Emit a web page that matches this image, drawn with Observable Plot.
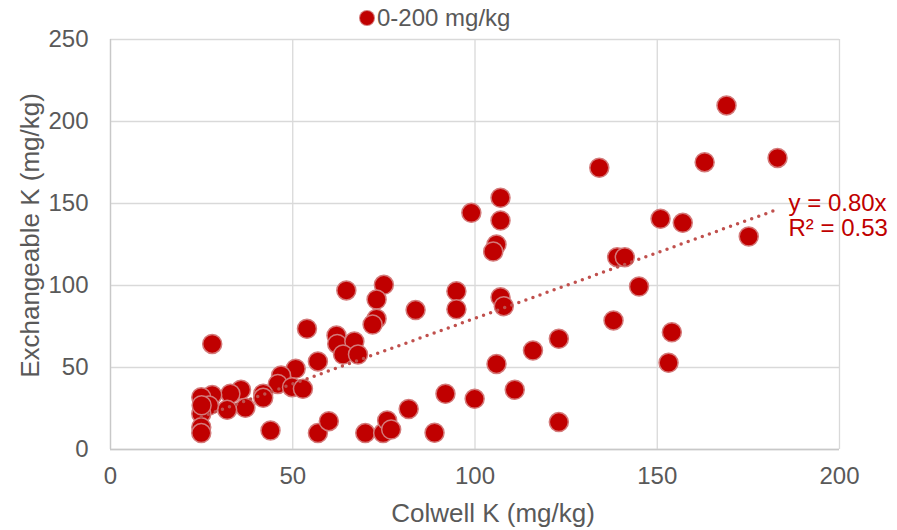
<!DOCTYPE html>
<html>
<head>
<meta charset="utf-8">
<script src="https://cdn.jsdelivr.net/npm/d3@7"></script>
<script src="https://cdn.jsdelivr.net/npm/@observablehq/plot@0.6"></script>
<style>
  html, body { margin: 0; padding: 0; background: #fff; }
  body { width: 897px; height: 530px; overflow: hidden; font-family: "Liberation Sans", Arial, sans-serif; }
  #legend { height: 28px; box-sizing: border-box; padding-top: 8px; padding-left: 360px;
            display: flex; align-items: center; font-size: 24px; color: #595959; line-height: 20px; }
  #legend .sw { width: 14px; height: 14px; border-radius: 50%; background: #c00000;
                box-shadow: 0 0 0 1px #d47a7a; margin-right: 3px; }
  #chart svg { display: block; overflow: visible; }
</style>
</head>
<body>
<div id="legend"><span class="sw"></span><span>0-200 mg/kg</span></div>
<div id="chart"></div>
<script>
// Colwell K vs exchangeable K, 0–200 mg/kg samples
const colwell = [
  27.9, 64.7, 75.0, 73.0, 73.0, 71.9, 83.7, 53.9, 62.0, 62.2,
  66.9, 63.8, 67.9, 56.9, 50.8, 46.8, 45.9, 49.8, 52.8, 41.9,
  41.9, 35.8, 32.9, 37.0, 32.0, 27.9, 24.9, 27.0, 24.9, 24.9,
  24.9, 43.9, 56.9, 59.9, 69.9, 74.8, 75.9, 77.0, 81.8, 88.9,
  107.0, 99.0, 107.0, 105.9, 105.0, 94.9, 94.9, 107.0, 107.9, 123.0,
  115.9, 105.9, 110.9, 91.9, 99.9, 123.0, 169.0, 134.1, 163.0, 183.0,
  150.9, 157.0, 175.1, 139.0, 141.1, 145.0, 138.0, 154.0, 153.1, 25.0
];
const exchangeable = [
  64.4, 97.0, 100.4, 91.5, 79.7, 76.2, 85.0, 73.6, 69.5, 64.4,
  65.9, 57.9, 57.9, 53.7, 49.2, 45.1, 40.0, 38.0, 37.0, 34.0,
  31.5, 36.4, 34.0, 25.4, 24.2, 33.3, 31.9, 26.8, 21.8, 13.6,
  10.0, 11.6, 10.0, 17.3, 10.0, 10.0, 17.7, 12.2, 24.7, 10.2,
  153.5, 144.3, 139.6, 125.0, 120.7, 96.5, 85.5, 92.9, 87.4, 67.5,
  60.4, 52.2, 36.4, 34.0, 30.9, 16.7, 209.8, 171.8, 175.2, 177.8,
  140.7, 138.2, 129.9, 117.3, 117.3, 99.4, 78.7, 71.5, 52.9, 27.0
];
const xTicks = [0, 50, 100, 150, 200];
const yTicks = [0, 50, 100, 150, 200, 250];
const slope = 0.80;
const rSquared = 0.53;

const points = colwell.map((x, i) => ({x, y: exchangeable[i]}));
const [xMin, xMax] = d3.extent(colwell);
const trend = [xMin, xMax].map(x => ({x, y: slope * x}));
const trendLabel = [{x: xMax, y: slope * xMax,
  text: `y = ${slope.toFixed(2)}x\nR² = ${rSquared.toFixed(2)}`}];

const red = "#c00000";
const grey = "#595959";
const grid = "#d9d9d9";

const chart = Plot.plot({
  width: 897,
  height: 502,
  marginTop: 11,
  marginLeft: 110,
  marginRight: 58,
  marginBottom: 81,
  style: {fontFamily: '"Liberation Sans", Arial, sans-serif', background: "#fff"},
  x: {domain: [0, 200]},
  y: {domain: [0, 250]},
  marks: [
    Plot.gridX(xTicks, {stroke: grid, strokeOpacity: 1, strokeWidth: 1.3}),
    Plot.gridY(yTicks, {stroke: grid, strokeOpacity: 1, strokeWidth: 1.3}),
    Plot.ruleX([0], {stroke: "#c8c8c8", strokeWidth: 1.3}),
    Plot.ruleY([0], {stroke: "#c8c8c8", strokeWidth: 1.3}),
    Plot.axisX(xTicks, {tickSize: 0, tickPadding: 17, fontSize: 24, fill: grey, label: null}),
    Plot.axisY(yTicks, {tickSize: 0, tickPadding: 22, fontSize: 24, fill: grey, label: null}),
    Plot.text(["Colwell K (mg/kg)"], {frameAnchor: "bottom", dx: 18, dy: 64, lineAnchor: "middle",
      fontSize: 26, fill: grey}),
    Plot.text(["Exchangeable K (mg/kg)"], {frameAnchor: "left", rotate: -90, dx: -80, dy: -9,
      textAnchor: "middle", lineAnchor: "middle", fontSize: 26, fill: grey}),
    Plot.dot(points, {x: "x", y: "y", r: 9.5, fill: red, stroke: "#d47a7a", strokeWidth: 1.5}),
    Plot.line(trend, {x: "x", y: "y", stroke: "#c0504d", strokeWidth: 3.5,
      strokeDasharray: "0,7.5", strokeLinecap: "round"}),
    Plot.text(trendLabel, {x: "x", y: "y", text: "text", dx: 11, dy: 6, textAnchor: "start",
      lineAnchor: "middle", lineHeight: 1.05, fontSize: 24, fill: red})
  ]
});
document.getElementById("chart").appendChild(chart);
</script>
</body>
</html>
